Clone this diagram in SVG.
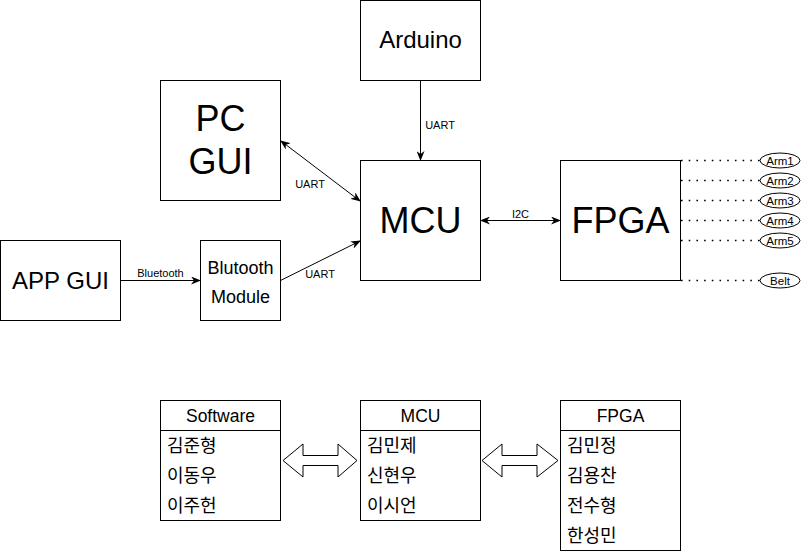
<svg xmlns="http://www.w3.org/2000/svg" width="801" height="551" viewBox="0 0 801 551">
<style>
.box{fill:#fff;stroke:#000;stroke-width:1}
.t{font-family:"Liberation Sans",Arial,sans-serif;fill:#000;text-anchor:middle}
.k{font-family:"Liberation Sans","Noto Sans CJK KR",sans-serif;fill:#000;font-size:18px}
.edge{fill:none;stroke:#000;stroke-width:1}
.dot{fill:none;stroke:#000;stroke-width:1.6;stroke-dasharray:1.6 6.1}
.lbl{font-family:"Liberation Sans",Arial,sans-serif;font-size:11px;fill:#000;text-anchor:middle}
.arm{font-family:"Liberation Sans",Arial,sans-serif;font-size:11.5px;fill:#000;text-anchor:middle}
.flex{fill:#fff;stroke:#000;stroke-width:1}
</style>
<defs>
<marker id="arr" viewBox="0 0 10 8" refX="9" refY="4" markerWidth="10" markerHeight="8" markerUnits="userSpaceOnUse" orient="auto-start-reverse">
<path d="M0,0 L10,4 L0,8 L3,4 Z" fill="#000"/>
</marker>
</defs>

<g id="arduino"><rect class="box" x="360.5" y="0.5" width="120" height="80"/><text class="t" x="420.5" y="48" font-size="24">Arduino</text></g>
<g id="pcgui"><rect class="box" x="160.5" y="80.5" width="120" height="120"/><text class="t" x="220.5" y="131" font-size="36">PC</text><text class="t" x="220.5" y="174" font-size="36">GUI</text></g>
<g id="mcu"><rect class="box" x="360.5" y="160.5" width="120" height="120"/><text class="t" x="420.5" y="233" font-size="36">MCU</text></g>
<g id="fpga"><rect class="box" x="560.5" y="160.5" width="120" height="120"/><text class="t" x="620.5" y="233" font-size="36">FPGA</text></g>
<g id="appgui"><rect class="box" x="0.5" y="240.5" width="120" height="80"/><text class="t" x="60.5" y="289" font-size="24">APP GUI</text></g>
<g id="btmodule"><rect class="box" x="200.5" y="240.5" width="80" height="80"/><text class="t" x="240.5" y="274" font-size="18">Blutooth</text><text class="t" x="240.5" y="303" font-size="18">Module</text></g>

<g id="arm1"><ellipse class="box" cx="780" cy="160.5" rx="20" ry="7.5"/><text class="arm" x="780" y="164.5">Arm1</text></g>
<g id="arm2"><ellipse class="box" cx="780" cy="180.5" rx="20" ry="7.5"/><text class="arm" x="780" y="184.5">Arm2</text></g>
<g id="arm3"><ellipse class="box" cx="780" cy="200.5" rx="20" ry="7.5"/><text class="arm" x="780" y="204.5">Arm3</text></g>
<g id="arm4"><ellipse class="box" cx="780" cy="220.5" rx="20" ry="7.5"/><text class="arm" x="780" y="224.5">Arm4</text></g>
<g id="arm5"><ellipse class="box" cx="780" cy="240.5" rx="20" ry="7.5"/><text class="arm" x="780" y="244.5">Arm5</text></g>
<g id="belt"><ellipse class="box" cx="780" cy="280.5" rx="20" ry="7.5"/><text class="arm" x="780" y="284.5">Belt</text></g>

<g id="connectors">
<line class="edge" x1="420.5" y1="80.5" x2="420.5" y2="160" marker-end="url(#arr)"/>
<text class="lbl" x="440" y="129">UART</text>
<line class="edge" x1="281" y1="141" x2="360" y2="201" marker-start="url(#arr)" marker-end="url(#arr)"/>
<text class="lbl" x="310" y="188">UART</text>
<line class="edge" x1="120.5" y1="280.5" x2="200" y2="280.5" marker-end="url(#arr)"/>
<text class="lbl" x="160.5" y="277">Bluetooth</text>
<line class="edge" x1="280.5" y1="280.5" x2="360" y2="241" marker-end="url(#arr)"/>
<text class="lbl" x="320" y="277.5">UART</text>
<line class="edge" x1="481" y1="220.5" x2="560" y2="220.5" marker-start="url(#arr)" marker-end="url(#arr)"/>
<text class="lbl" x="520.5" y="218">I2C</text>
<line class="dot" x1="681" y1="160.5" x2="760" y2="160.5"/>
<line class="dot" x1="681" y1="180.5" x2="760" y2="180.5"/>
<line class="dot" x1="681" y1="200.5" x2="760" y2="200.5"/>
<line class="dot" x1="681" y1="220.5" x2="760" y2="220.5"/>
<line class="dot" x1="681" y1="240.5" x2="760" y2="240.5"/>
<line class="dot" x1="681" y1="280.5" x2="760" y2="280.5"/>
<polygon class="flex" points="283,460.5 303,444 303,455.5 338,455.5 338,444 357,460.5 338,477 338,465.5 303,465.5 303,477"/>
<polygon class="flex" points="482,460.5 502,444 502,455.5 537,455.5 537,444 558,460.5 537,477 537,465.5 502,465.5 502,477"/>
</g>

<g id="team-software">
<rect class="box" x="160.5" y="400.5" width="120" height="120"/>
<line class="edge" x1="160.5" y1="430.5" x2="280.5" y2="430.5"/>
<text class="t" x="220.5" y="422" font-size="17.5">Software</text>
<text class="k" x="167" y="452">김준형</text>
<text class="k" x="167" y="482">이동우</text>
<text class="k" x="167" y="512">이주헌</text>
</g>
<g id="team-mcu">
<rect class="box" x="360.5" y="400.5" width="120" height="120"/>
<line class="edge" x1="360.5" y1="430.5" x2="480.5" y2="430.5"/>
<text class="t" x="420.5" y="422" font-size="17.5">MCU</text>
<text class="k" x="367" y="452">김민제</text>
<text class="k" x="367" y="482">신현우</text>
<text class="k" x="367" y="512">이시언</text>
</g>
<g id="team-fpga">
<rect class="box" x="560.5" y="400.5" width="120" height="150"/>
<line class="edge" x1="560.5" y1="430.5" x2="680.5" y2="430.5"/>
<text class="t" x="620.5" y="422" font-size="17.5">FPGA</text>
<text class="k" x="567" y="452">김민정</text>
<text class="k" x="567" y="482">김용찬</text>
<text class="k" x="567" y="512">전수형</text>
<text class="k" x="567" y="542">한성민</text>
</g>
</svg>
